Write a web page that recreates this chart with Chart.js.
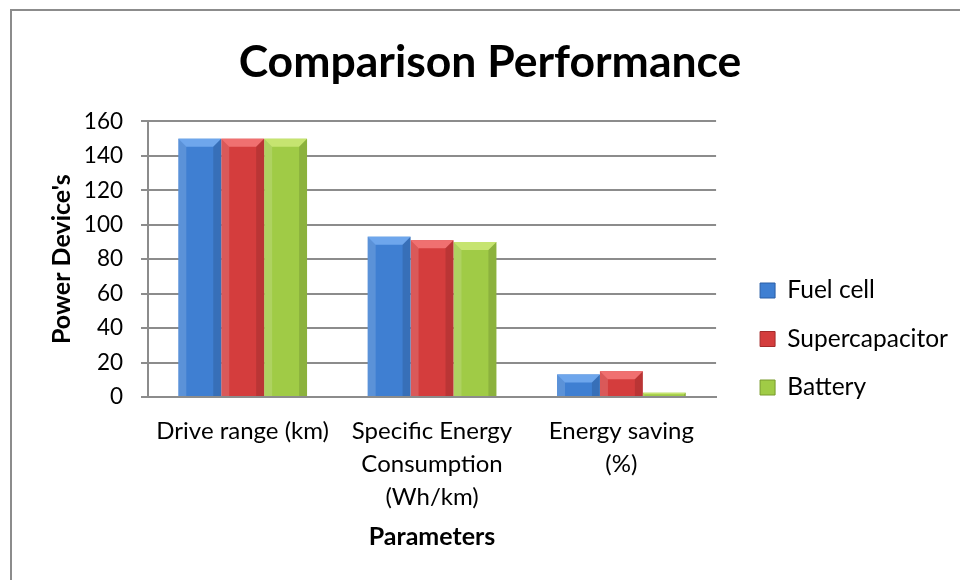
<!DOCTYPE html>
<html>
<head>
<meta charset="utf-8">
<script src="https://cdn.jsdelivr.net/npm/chart.js@4.4.0/dist/chart.umd.min.js"></script>
<style>
  html, body { margin: 0; padding: 0; background: #fff; }
  #wrap { width: 960px; height: 580px; position: relative; }
</style>
</head>
<body>
<div id="wrap"><canvas id="chart"></canvas></div>
<script>
// Datos
const categories = [['Drive range (km)'], ['Specific Energy', 'Consumption', '(Wh/km)'], ['Energy saving', '(%)']];
const fuelCell = [150, 93, 13];
const supercapacitor = [150, 91, 15];
const battery = [150, 90, 2.5];
const seriesNames = ['Fuel cell', 'Supercapacitor', 'Battery'];

// colores: claro, medio, oscuro
const palette = [
    ['#6ea6ec', '#3f7fd2', '#2b5ea6'],
    ['#f07070', '#d43d3d', '#a32b2b'],
    ['#c6e470', '#a0cb46', '#789a2c']
];

function bevelFill(idx) {
    return (c) => {
        const el = c.element;
        if (!c.chart.chartArea || !el || el.width == null) return palette[idx][1];
        const x0 = el.x - el.width / 2, x1 = el.x + el.width / 2;
        const g = c.chart.ctx.createLinearGradient(x0, 0, x1, 0);
        g.addColorStop(0, palette[idx][1]);
        g.addColorStop(0.85, palette[idx][1]);
        g.addColorStop(1, palette[idx][2]);
        return g;
    };
}

// Marco exterior, ajuste de leyenda/título y biselado de las barras
const extras = {
    id: 'extras',
    afterLayout(chart) {
        const lg = chart.legend;
        lg.left += 20; lg.right += 20;
        lg.top += 49; lg.bottom += 49;
        const tb = chart.titleBlock;
        tb.left += 21; tb.right += 21;
    },
    afterDatasetsDraw(chart) {
        const ctx = chart.ctx;
        chart.data.datasets.forEach((ds, i) => {
            chart.getDatasetMeta(i).data.forEach(bar => {
                const x0 = bar.x - bar.width / 2, x1 = bar.x + bar.width / 2;
                const top = bar.y, bottom = bar.base;
                const h = bottom - top;
                const b = Math.min(8, h / 2);
                ctx.save();
                // cara superior clara
                ctx.fillStyle = palette[i][0];
                ctx.beginPath();
                ctx.moveTo(x0, top); ctx.lineTo(x1, top);
                ctx.lineTo(x1 - b, top + b); ctx.lineTo(x0 + b, top + b);
                ctx.closePath(); ctx.fill();
                // laterales
                ctx.fillStyle = 'rgba(255,255,255,0.15)';
                ctx.beginPath();
                ctx.moveTo(x0, top); ctx.lineTo(x0 + b, top + b);
                ctx.lineTo(x0 + b, bottom); ctx.lineTo(x0, bottom);
                ctx.closePath(); ctx.fill();
                ctx.fillStyle = 'rgba(0,0,0,0.12)';
                ctx.beginPath();
                ctx.moveTo(x1, top); ctx.lineTo(x1 - b, top + b);
                ctx.lineTo(x1 - b, bottom); ctx.lineTo(x1, bottom);
                ctx.closePath(); ctx.fill();
                ctx.restore();
            });
        });
    },
    afterDraw(chart) {
        const ctx = chart.ctx;
        ctx.save();
        ctx.strokeStyle = '#8c8c8c';
        ctx.lineWidth = 2;
        ctx.strokeRect(11, 10, 1000, 1000);
        ctx.restore();
    }
};

const ctx = document.getElementById('chart').getContext('2d');
const chart = new Chart(ctx, {
    type: 'bar',
    data: {
        labels: categories,
        datasets: [
            { label: seriesNames[0], data: fuelCell, backgroundColor: bevelFill(0) },
            { label: seriesNames[1], data: supercapacitor, backgroundColor: bevelFill(1) },
            { label: seriesNames[2], data: battery, backgroundColor: bevelFill(2) }
        ]
    },
    options: {
        responsive: true,
        maintainAspectRatio: false,
        animation: false,
        layout: { padding: { left: 0, right: 22, top: 0, bottom: 0 } },
        datasets: { bar: { categoryPercentage: 0.68, barPercentage: 1.0 } },
        plugins: {
            title: {
                display: true,
                text: 'Comparison Performance',
                color: '#000',
                font: { family: 'Lato', size: 44.5, weight: 'bold', lineHeight: 1.2 },
                padding: { top: 36, bottom: 32 }
            },
            legend: {
                position: 'right',
                labels: {
                    color: '#000',
                    font: { family: 'Lato', size: 24.5 },
                    boxWidth: 15,
                    boxHeight: 15,
                    padding: 24,
                    generateLabels(chart) {
                        return chart.data.datasets.map((ds, i) => ({
                            text: ds.label,
                            fillStyle: palette[i][1],
                            strokeStyle: palette[i][2],
                            lineWidth: 1,
                            datasetIndex: i,
                            fontColor: '#000'
                        }));
                    }
                }
            },
            tooltip: { enabled: false }
        },
        scales: {
            x: {
                afterFit(scale) { scale.height = 183; },
                grid: { display: false, drawTicks: false },
                border: { color: '#8c8c8c', width: 2 },
                ticks: {
                    color: '#000',
                    font: { family: 'Lato', size: 24, lineHeight: 1.37 },
                    padding: 18,
                    maxRotation: 0,
                    autoSkip: false
                },
                title: {
                    display: true,
                    text: 'Parameters',
                    color: '#000',
                    font: { family: 'Lato', size: 25, weight: 'bold', lineHeight: 1.2 },
                    padding: { top: 0, bottom: 28 }
                }
            },
            y: {
                afterFit(scale) { scale.width = 148; },
                min: 0,
                max: 160,
                ticks: {
                    stepSize: 20,
                    color: '#000',
                    font: { family: 'Lato', size: 22.5 },
                    padding: 18
                },
                grid: { color: '#8c8c8c', lineWidth: 2, tickLength: 7 },
                border: { color: '#8c8c8c', width: 2 },
                title: {
                    display: true,
                    text: "Power Device's",
                    color: '#000',
                    font: { family: 'Lato', size: 25, weight: 'bold', lineHeight: 1.2 },
                    padding: { top: 47, bottom: 0 }
                }
            }
        }
    },
    plugins: [extras]
});
</script>
</body>
</html>
